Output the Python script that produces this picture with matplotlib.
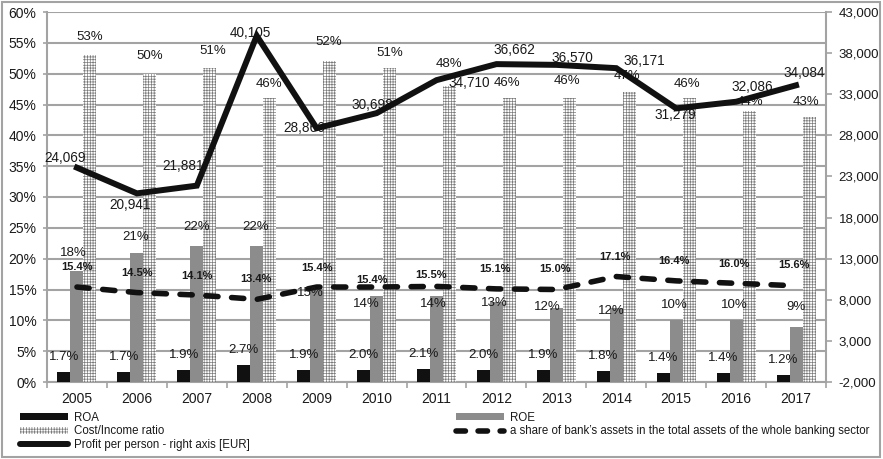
import matplotlib
matplotlib.use("Agg")
import matplotlib.pyplot as plt
from matplotlib.patches import Patch, Rectangle
from matplotlib.lines import Line2D
from matplotlib.ticker import FuncFormatter
import numpy as np

# ---- data -------------------------------------------------------------
years = [str(y) for y in range(2005, 2018)]
roa = [1.7, 1.7, 1.9, 2.7, 1.9, 2.0, 2.1, 2.0, 1.9, 1.8, 1.4, 1.4, 1.2]
roe = [18, 21, 22, 22, 15, 14, 14, 13, 12, 12, 10, 10, 9]
cost_income = [53, 50, 51, 46, 52, 51, 48, 46, 46, 47, 46, 44, 43]
asset_share = [15.4, 14.5, 14.1, 13.4, 15.4, 15.4, 15.5, 15.1, 15.0, 17.1, 16.4, 16.0, 15.6]
profit = [24069, 20941, 21881, 40105, 28866, 30698, 34710, 36662, 36570, 36171,
          31279, 32086, 34084]

# ---- label placement (pixel offsets from the mark) -----------------------
roe_lbl_dx = [-4, -1, 0, -1, -6, -10, -3, -2, -9, -5, -2, -2, 0]
roe_lbl_dy = [18, 16, 19, 19, -4, -8, -8, -1, 1, -3, 15, 15, 19]
ci_lbl_dx = [0, 0, 3, -1, -1, 0, -1, -2, -2, -2, -2, 1, -3]
ci_lbl_dy = [18, 18, 17, 14, 19, 15, 22, 15, 17, 16, 14, 9, 15]
share_lbl_dx = [0, 0, 0, -1, 0, -5, -6, -1, -1, -1, -2, -2, -2]
share_lbl_dy = [20, 20, 19, 20, 19, 7, 11, 20, 21, 20, 20, 19, 21]
profit_lbl_dx = [-12, -7, -14, -6, -12, -4, 33, 18, 16, 28, -1, 16, 8]
profit_lbl_dy = [10, -12, 20, 3, 0, 8, -3, 14, 7, 7, -7, 15, 12]

# ---- style ------------------------------------------------------------
plt.rcParams["font.family"] = ["Liberation Sans", "DejaVu Sans"]
plt.rcParams["hatch.linewidth"] = 0.5
GRID = "#a3a3a3"
TXT = "#1a1a1a"
HATCH = "#7a7a7a"
DASH = (0, (2.2, 2.45))

fig = plt.figure(figsize=(8.83, 4.59), dpi=100)
ax = fig.add_axes([47 / 883, 1 - 382 / 459, (826 - 47) / 883, (382 - 12) / 459])
ax2 = ax.twinx()

x = np.arange(len(years))
w = 0.217

ax.bar(x - w, roa, w, color="#111111", zorder=3)
ax.bar(x, roe, w, color="#8c8c8c", zorder=3)
ax.bar(x + w, cost_income, w, color="white", edgecolor=HATCH, linewidth=0,
       hatch="++++++", zorder=3)
ax.plot(x, asset_share, color="#111111", lw=4.0, linestyle=DASH,
        dash_capstyle="round", zorder=4)

ax2.plot(x, profit, color="#111111", lw=4.3, solid_joinstyle="miter", zorder=4)

# ---- axes -------------------------------------------------------------
ax.set_xlim(-0.5, len(years) - 0.5)
ax.set_ylim(0, 60)
ax.set_yticks(np.arange(0, 61, 5))
ax.yaxis.set_major_formatter(FuncFormatter(lambda v, p: f"{v:.0f}%"))
ax.set_xticks(x)
ax.set_xticklabels(years)
ax.set_xticks(np.arange(-0.5, len(years)), minor=True)
ax.tick_params(axis="x", which="major", length=0, pad=7, labelsize=10, labelcolor=TXT)
ax.tick_params(axis="x", which="minor", length=4, width=1.2, color=GRID, direction="out")
ax.tick_params(axis="y", length=3, width=1.2, color=GRID, pad=4.5, labelsize=10,
               labelcolor=TXT)
ax.grid(axis="y", color=GRID, lw=1.5, zorder=0)
ax.set_axisbelow(True)

ax2.set_ylim(-2000, 43000)
ax2.set_yticks(np.arange(-2000, 43001, 5000))
ax2.yaxis.set_major_formatter(FuncFormatter(lambda v, p: f"{v:,.0f}"))
ax2.tick_params(axis="y", length=4, width=1.2, color=GRID, pad=5, labelsize=9.5,
                labelcolor=TXT)

for a in (ax, ax2):
    a.spines["top"].set_visible(False)
    for s in ("left", "right", "bottom"):
        a.spines[s].set_color(GRID)
        a.spines[s].set_linewidth(1.5)
ax2.spines["left"].set_visible(False)
ax2.spines["bottom"].set_visible(False)
ax.spines["right"].set_visible(False)

# ---- value labels -----------------------------------------------------
def put(target, xy, text, dx, dy, coords="data", **kw):
    target.annotate(text, xy=xy, xycoords=coords, xytext=(dx, dy),
                    textcoords="offset pixels", ha="center", va="center",
                    color=TXT, **kw)

for i in range(len(years)):
    put(ax, (x[i] - w, roa[i]), f"{roa[i]:.1f}%", 0, 15, fontsize=9.5, zorder=6)
    put(ax, (x[i], roe[i]), f"{roe[i]:.0f}%", roe_lbl_dx[i], roe_lbl_dy[i],
        fontsize=9.5, zorder=6)
    put(ax, (x[i] + w, cost_income[i]), f"{cost_income[i]:.0f}%", ci_lbl_dx[i],
        ci_lbl_dy[i], fontsize=9.5, zorder=6)
    put(ax, (x[i], asset_share[i]), f"{asset_share[i]:.1f}%", share_lbl_dx[i],
        share_lbl_dy[i], fontsize=8, fontweight="bold", zorder=6)
    # profit labels sit above the bars but beneath the profit line (right axis)
    put(ax, (x[i], profit[i]), f"{profit[i]:,}", profit_lbl_dx[i], profit_lbl_dy[i],
        coords=ax2.transData, fontsize=9.8, zorder=6)

# ---- legend -----------------------------------------------------------
h_roa = Patch(facecolor="#111111", edgecolor="none")
h_roe = Patch(facecolor="#8c8c8c", edgecolor="none")
h_ci = Patch(facecolor="white", edgecolor=HATCH, linewidth=0, hatch="++++++")
h_profit = Line2D([], [], color="#111111", lw=4.3, solid_capstyle="round")
h_share = Line2D([], [], color="#111111", lw=4.0, linestyle=(0, (1.7, 2.27)),
                 dash_capstyle="round")

common = dict(loc="upper left", frameon=False, fontsize=8.3, handlelength=4.16,
              handleheight=0.55, handletextpad=0.52, labelspacing=0.12,
              borderpad=0, borderaxespad=0, bbox_transform=fig.transFigure)
leg1 = fig.legend([h_roa, h_ci, h_profit],
                  ["ROA", "Cost/Income ratio", "Profit per person - right axis [EUR]"],
                  bbox_to_anchor=(20 / 883, 1 - 412 / 459), **common)
leg2 = fig.legend([h_roe, h_share],
                  ["ROE", "a share of bank\u2019s assets in the total assets of the whole banking sector"],
                  bbox_to_anchor=(456 / 883, 1 - 412 / 459), **common)
for lg in (leg1, leg2):
    for t in lg.get_texts():
        t.set_color(TXT)

# ---- outer frame ------------------------------------------------------
fig.patches.append(Rectangle((2 / 883, 1 - 457 / 459), 878 / 883, 455 / 459,
                             transform=fig.transFigure, fill=False,
                             edgecolor=GRID, linewidth=1.5))

fig.savefig("out.png", dpi=100)
